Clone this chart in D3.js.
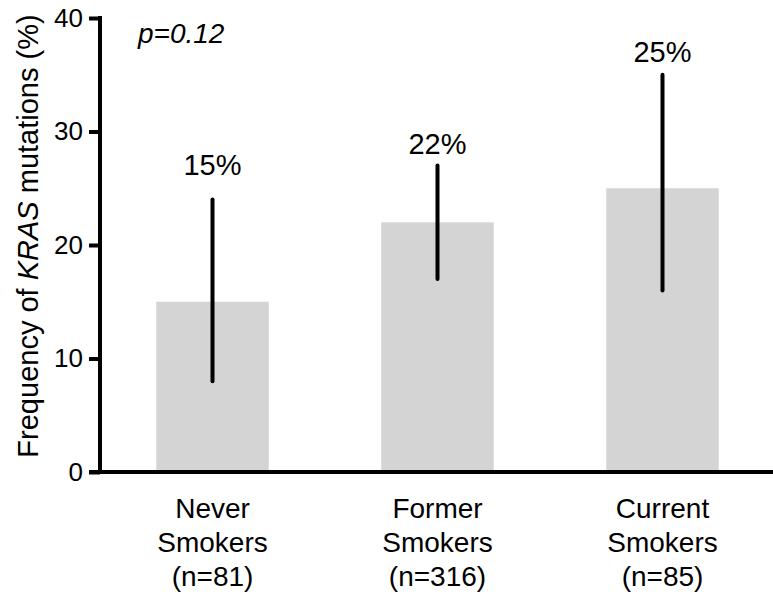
<!DOCTYPE html>
<html>
<head>
<meta charset="utf-8">
<script src="https://cdnjs.cloudflare.com/ajax/libs/d3/7.8.5/d3.min.js"></script>
<style>
	body { margin: 0; background: #fff; }
	svg text { font-family: "Liberation Sans", Arial, sans-serif; fill: #000; }
</style>
</head>
<body>
<div id="chart"></div>
<script>

///////////////////////////////////////////////////////////////////////////
//////////////////////////////// Data /////////////////////////////////////
///////////////////////////////////////////////////////////////////////////

var categories = ["Never", "Former", "Current"];
var groupSizes = [81, 316, 85];
var frequency = [15, 22, 25];
var ciLow = [8, 17, 16];
var ciHigh = [24, 27, 35];
var valueLabels = ["15%", "22%", "25%"];
var yTicks = [0, 10, 20, 30, 40];
var pValue = "p=0.12";

///////////////////////////////////////////////////////////////////////////
//////////////////// Set up and initiate svg containers ///////////////////
///////////////////////////////////////////////////////////////////////////

var width = 773,
	height = 595;

var svg = d3.select("#chart")
	.append("svg")
	.attr("width", width)
	.attr("height", height);

var axisX = 100,
	plotTop = 18,
	plotBottom = 472;

var y = d3.scaleLinear()
	.domain([0, 40])
	.range([plotBottom, plotTop]);

var x = d3.scaleBand()
	.domain(categories)
	.range([100, 775])
	.paddingInner(0.5)
	.paddingOuter(0.25);

///////////////////////////////////////////////////////////////////////////
/////////////////////////////// Bars //////////////////////////////////////
///////////////////////////////////////////////////////////////////////////

svg.selectAll(".bar")
	.data(categories)
	.enter().append("rect")
	.attr("class", "bar")
	.attr("x", function(d) { return x(d); })
	.attr("y", function(d,i) { return y(frequency[i]); })
	.attr("width", x.bandwidth())
	.attr("height", function(d,i) { return y(0) - y(frequency[i]); })
	.style("fill", "#d4d4d4");

//Error bars
svg.selectAll(".err")
	.data(categories)
	.enter().append("line")
	.attr("class", "err")
	.attr("x1", function(d) { return x(d) + x.bandwidth()/2; })
	.attr("x2", function(d) { return x(d) + x.bandwidth()/2; })
	.attr("y1", function(d,i) { return y(ciLow[i]); })
	.attr("y2", function(d,i) { return y(ciHigh[i]); })
	.style("stroke", "#000")
	.style("stroke-width", "4px")
	.style("stroke-linecap", "round");

//Value labels above the error bars
var labelGap = [25, 12, 13];
svg.selectAll(".val")
	.data(categories)
	.enter().append("text")
	.attr("class", "val")
	.attr("x", function(d) { return x(d) + x.bandwidth()/2; })
	.attr("y", function(d,i) { return y(ciHigh[i]) - labelGap[i]; })
	.attr("text-anchor", "middle")
	.style("font-size", "29px")
	.text(function(d,i) { return valueLabels[i]; });

///////////////////////////////////////////////////////////////////////////
/////////////////////////////// Axes //////////////////////////////////////
///////////////////////////////////////////////////////////////////////////

var yAxis = svg.append("g")
	.attr("transform", "translate(" + axisX + ",0)")
	.call(d3.axisLeft(y).tickValues(yTicks).tickSize(11).tickPadding(6));

yAxis.select(".domain").remove();
yAxis.selectAll(".tick line").style("stroke", "#000").style("stroke-width", "4px");
yAxis.selectAll(".tick text")
	.style("font-size", "26px")
	.style("font-family", "'Liberation Sans', Arial, sans-serif")
	.attr("fill", "#000");

svg.append("line")
	.attr("x1", axisX).attr("x2", axisX)
	.attr("y1", y(40) - 2).attr("y2", y(0))
	.style("stroke", "#000")
	.style("stroke-width", "4px");

svg.append("line")
	.attr("x1", axisX - 11).attr("x2", width)
	.attr("y1", y(0)).attr("y2", y(0))
	.style("stroke", "#000")
	.style("stroke-width", "4px");

//Category labels
var catLabel = svg.selectAll(".cat")
	.data(categories)
	.enter().append("text")
	.attr("class", "cat")
	.attr("text-anchor", "middle")
	.style("font-size", "28px")
	.attr("transform", function(d) { return "translate(" + (x(d) + x.bandwidth()/2) + ",518)"; });

catLabel.append("tspan").attr("x", 0).attr("y", 0).text(function(d) { return d; });
catLabel.append("tspan").attr("x", 0).attr("y", 34).text("Smokers");
catLabel.append("tspan").attr("x", 0).attr("y", 68).text(function(d,i) { return "(n=" + groupSizes[i] + ")"; });

//Y axis title
var yTitle = svg.append("text")
	.attr("transform", "translate(38,236) rotate(-90)")
	.attr("text-anchor", "middle")
	.style("font-size", "29px");
yTitle.append("tspan").text("Frequency of ");
yTitle.append("tspan").style("font-style", "italic").text("KRAS");
yTitle.append("tspan").text(" mutations (%)");

//p value
svg.append("text")
	.attr("x", 138)
	.attr("y", 43)
	.style("font-size", "28px")
	.style("font-style", "italic")
	.text(pValue);

</script>
</body>
</html>
